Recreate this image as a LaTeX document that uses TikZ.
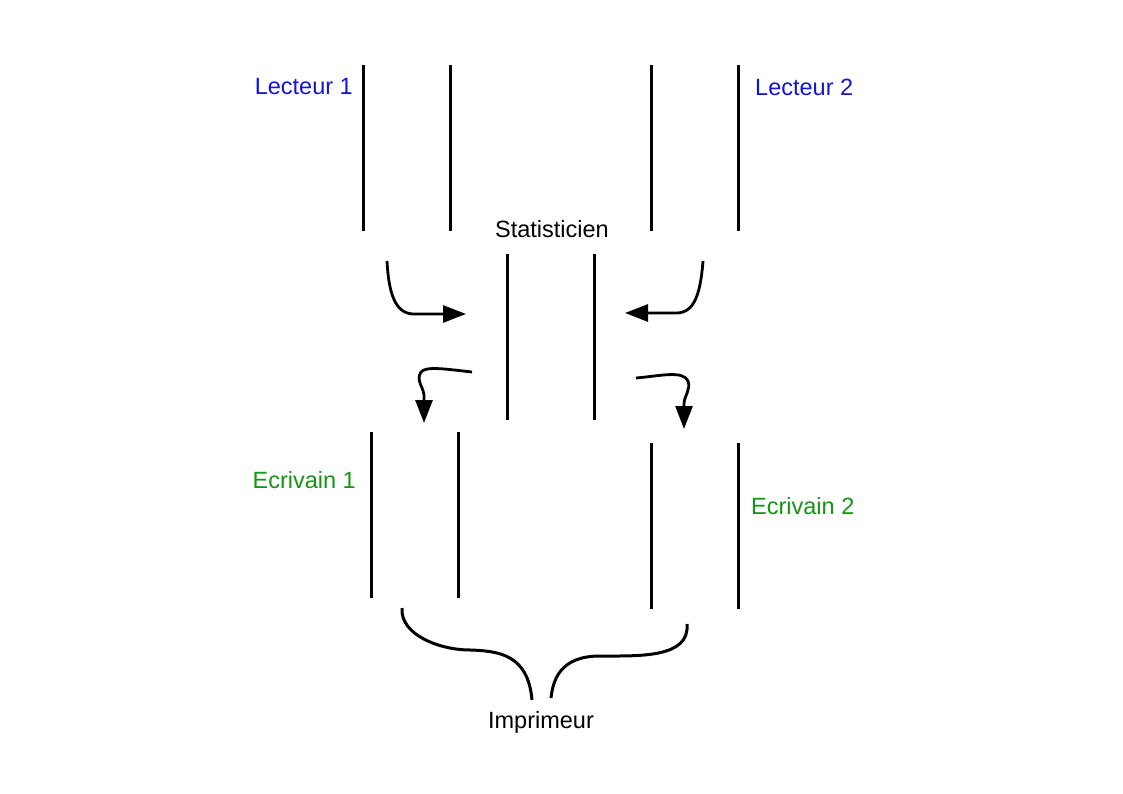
\documentclass[tikz,border=0pt]{standalone}
\usepackage{fontspec}
\setmainfont{Liberation Sans}
\usetikzlibrary{arrows.meta,calc}
\definecolor{lect_blue}{RGB}{20, 20, 215}
\definecolor{ecr_green}{RGB}{20, 150, 20}
\tikzstyle{none}=[inner sep=0pt]
\tikzstyle{txt}=[inner sep=0pt,font=\fontsize{23.5}{28}\selectfont]
\tikzstyle{lect}=[txt,text=lect_blue]
\tikzstyle{ecr}=[txt,text=ecr_green]
\tikzstyle{bar}=[line width=3pt]
\tikzstyle{flow}=[line width=2.8pt,-{Triangle[length=23pt,width=17pt]}]

\begin{document}
\begin{tikzpicture}[x=1pt, y=-1pt]
            \useasboundingbox (0,0) rectangle (1123,794);
            % labels
            \node [style=lect, anchor=east] (1) at (353, 87) {Lecteur 1};
            \node [style=lect, anchor=west] (2) at (755, 87) {Lecteur 2};
            \node [style=txt] (3) at (552, 229) {Statisticien};
            \node [style=ecr, anchor=east] (4) at (356, 480) {Ecrivain 1};
            \node [style=ecr, anchor=west] (5) at (751, 506) {Ecrivain 2};
            \node [style=txt] (6) at (541, 722) {Imprimeur};
            % Lecteur 1
            \node [style=none] (10) at (363, 65) {};
            \node [style=none] (11) at (363, 231) {};
            \node [style=none] (12) at (450, 65) {};
            \node [style=none] (13) at (450, 231) {};
            % Lecteur 2
            \node [style=none] (14) at (651, 65) {};
            \node [style=none] (15) at (651, 231) {};
            \node [style=none] (16) at (738, 65) {};
            \node [style=none] (17) at (738, 231) {};
            % Statisticien
            \node [style=none] (18) at (507, 254) {};
            \node [style=none] (19) at (507, 420) {};
            \node [style=none] (20) at (594, 254) {};
            \node [style=none] (21) at (594, 420) {};
            % Ecrivain 1
            \node [style=none] (22) at (371, 432) {};
            \node [style=none] (23) at (371, 598) {};
            \node [style=none] (24) at (458, 432) {};
            \node [style=none] (25) at (458, 598) {};
            % Ecrivain 2
            \node [style=none] (26) at (651, 443) {};
            \node [style=none] (27) at (651, 609) {};
            \node [style=none] (28) at (738, 443) {};
            \node [style=none] (29) at (738, 609) {};
            % arrow ends
            \node [style=none] (30) at (387, 261) {};
            \node [style=none] (31) at (466, 314) {};
            \node [style=none] (32) at (703, 261) {};
            \node [style=none] (33) at (625, 313) {};
            \node [style=none] (34) at (472, 372) {};
            \node [style=none] (35) at (424, 423) {};
            \node [style=none] (36) at (636, 378) {};
            \node [style=none] (37) at (684, 429) {};
            \node [style=none] (38) at (402, 608) {};
            \node [style=none] (39) at (532, 700) {};
            \node [style=none] (40) at (687, 624) {};
            \node [style=none] (41) at (551, 698) {};
            \draw [style=bar] (10.center) to (11.center);
            \draw [style=bar] (12.center) to (13.center);
            \draw [style=bar] (14.center) to (15.center);
            \draw [style=bar] (16.center) to (17.center);
            \draw [style=bar] (18.center) to (19.center);
            \draw [style=bar] (20.center) to (21.center);
            \draw [style=bar] (22.center) to (23.center);
            \draw [style=bar] (24.center) to (25.center);
            \draw [style=bar] (26.center) to (27.center);
            \draw [style=bar] (28.center) to (29.center);
            \draw [style=flow] (30.center) .. controls (389, 300) and (398, 315) .. (416, 314) -- (31.center);
            \draw [style=flow] (32.center) .. controls (700, 300) and (692, 314) .. (674, 313) -- (33.center);
            \draw [style=flow] (34.center) .. controls (445, 369) and (426, 366) .. (421, 372)
                .. controls (415, 381) and (425, 388) .. (424, 398) -- (35.center);
            \draw [style=flow] (36.center) .. controls (660, 376) and (683, 370) .. (688, 381)
                .. controls (691, 390) and (684, 396) .. (684, 404) -- (37.center);
            \draw [style=bar] (38.center) .. controls (400, 635) and (440, 650) .. (470, 650)
                .. controls (500, 651) and (528, 655) .. (39.center);
            \draw [style=bar] (40.center) .. controls (690, 658) and (640, 656) .. (600, 656)
                .. controls (560, 656) and (553, 680) .. (41.center);
    \end{tikzpicture}
\end{document}
